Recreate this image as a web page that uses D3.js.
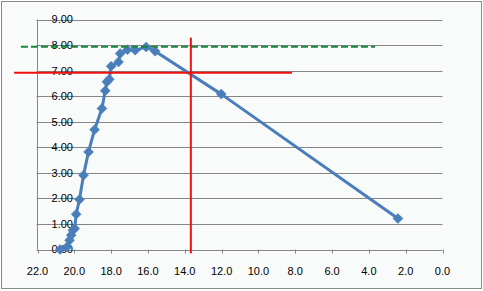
<!DOCTYPE html>
<html>
<head>
<meta charset="utf-8">
<script src="https://cdn.jsdelivr.net/npm/d3@7"></script>
<style>
  body { margin: 0; background: #fff; }
  svg text { font-family: "Liberation Sans", Arial, sans-serif; font-size: 11px; fill: #000; }
</style>
</head>
<body>
<div id="chart"></div>
<script>
// series
var xValues = [20.77, 20.40, 20.26, 20.17, 20.08, 19.98, 19.90, 19.72, 19.50, 19.23, 18.90, 18.50,
               18.32, 18.23, 18.10, 18.00, 17.60, 17.51, 17.11, 16.69, 16.10, 15.61, 12.02, 2.42];
var yValues = [0.00, 0.10, 0.36, 0.56, 0.75, 0.82, 1.38, 1.96, 2.91, 3.82, 4.69, 5.52,
               6.21, 6.56, 6.66, 7.17, 7.34, 7.67, 7.82, 7.80, 7.92, 7.76, 6.08, 1.21];
var xTicks = [22, 20, 18, 16, 14, 12, 10, 8, 6, 4, 2, 0];
var yTicks = [0, 1, 2, 3, 4, 5, 6, 7, 8, 9];

// helper lines: [x1, y1, x2, y2] in data units
var redVertical = [13.67, 8.29, 13.67, -0.15];
var redHorizontal = [23.27, 6.92, 8.18, 6.92];
var greenDashed = [22.9, 7.93, 3.66, 7.93];

var width = 483, height = 291;

var svg = d3.select("#chart").append("svg")
    .attr("width", width).attr("height", height);

svg.append("rect")
    .attr("x", 1.5).attr("y", 1.5)
    .attr("width", width - 3).attr("height", height - 4)
    .style("fill", "#f8fbfa")
    .style("stroke", "#8a8a8a");

var x = d3.scaleLinear().domain([22, 0]).range([37.5, 442.5]),
    y = d3.scaleLinear().domain([0, 9]).range([249.5, 19.5]);

// gridlines
svg.selectAll(".grid")
    .data(yTicks)
    .enter().append("line")
    .attr("x1", x(22) - 1).attr("x2", x(0))
    .attr("y1", function (d) { return Math.round(y(d)) + 0.5; })
    .attr("y2", function (d) { return Math.round(y(d)) + 0.5; })
    .style("stroke", "#868686");

// y axis line
svg.append("line")
    .attr("x1", x(22)).attr("x2", x(22))
    .attr("y1", y(9)).attr("y2", y(0))
    .style("stroke", "#868686");

// x axis ticks
svg.selectAll(".xtick")
    .data(xTicks)
    .enter().append("line")
    .attr("x1", function (d) { return Math.round(x(d)) + 0.5; })
    .attr("x2", function (d) { return Math.round(x(d)) + 0.5; })
    .attr("y1", y(0)).attr("y2", y(0) + 4)
    .style("stroke", "#868686");

svg.selectAll(".xlabel")
    .data(xTicks)
    .enter().append("text")
    .attr("x", function (d) { return x(d); })
    .attr("y", 275)
    .attr("text-anchor", "middle")
    .text(function (d) { return d3.format(".1f")(d); });

svg.selectAll(".ylabel")
    .data(yTicks)
    .enter().append("text")
    .attr("x", 73)
    .attr("y", function (d) { return y(d); })
    .attr("dy", "0.36em")
    .attr("text-anchor", "end")
    .text(function (d) { return d3.format(".2f")(d); });

// series
var pts = xValues.map(function (v, i) { return [v, yValues[i]]; });

svg.append("path")
    .datum(pts)
    .attr("d", d3.line().x(function (d) { return x(d[0]); }).y(function (d) { return y(d[1]); }))
    .style("fill", "none")
    .style("stroke", "#4a7ebb")
    .style("stroke-width", 3)
    .style("stroke-linejoin", "round");

svg.selectAll(".marker")
    .data(pts)
    .enter().append("path")
    .attr("transform", function (d) { return "translate(" + x(d[0]) + "," + y(d[1]) + ")"; })
    .attr("d", "M0,-5L5,0L0,5L-5,0Z")
    .style("fill", "#4a7ebb")
    .style("stroke", "#4a7ebb")
    .style("stroke-width", 0.5);

function refLine(a, color, dash) {
    svg.append("line")
        .attr("x1", x(a[0])).attr("y1", y(a[1]))
        .attr("x2", x(a[2])).attr("y2", y(a[3]))
        .style("stroke", color)
        .style("stroke-width", 2)
        .style("stroke-dasharray", dash || null);
}
refLine(greenDashed, "#138a3c", "7,3");
refLine(redHorizontal, "#f01010");
refLine(redVertical, "#f01010");
</script>
</body>
</html>
